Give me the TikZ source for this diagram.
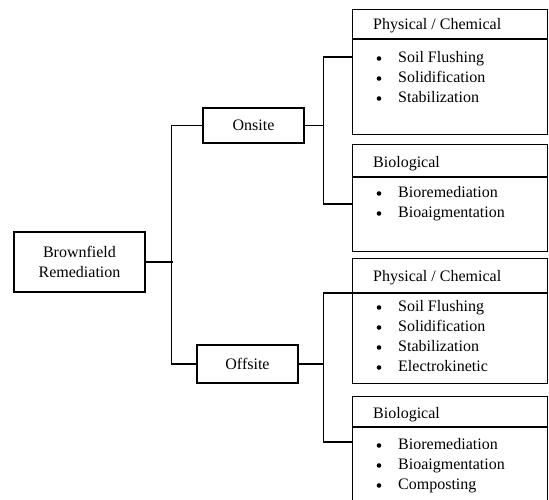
\documentclass[tikz,border=0pt]{standalone}
\usepackage{fontspec}
\setmainfont{Liberation Serif}
\usepackage{tikz}
\usetikzlibrary{positioning,calc}

\tikzset{
  box/.style={draw, line width=1.2pt, rectangle, align=center, inner sep=0pt,
    font=\fontsize{16}{20}\selectfont},
  panel/.style={draw, line width=1.2pt, rectangle, anchor=north west, inner sep=0pt,
    minimum width=195pt},
  head/.style={anchor=west, inner sep=0pt, text height=11pt, text depth=3.5pt,
    font=\fontsize{16}{20}\selectfont},
  item/.style={anchor=west, inner sep=0pt, text height=11pt, text depth=3.5pt,
    font=\fontsize{16}{20}\selectfont},
  conn/.style={line width=1.2pt},
}

\begin{document}
\begin{tikzpicture}[x=1pt,y=-1pt]
\useasboundingbox (0,0) rectangle (549,499);

% left part
\node[box, minimum width=131pt, minimum height=60pt] (brown) at (79.5,262) {Brownfield\\Remediation};
\node[box, minimum width=101pt, minimum height=35pt] (onsite) at (253.5,125.5) {Onsite};
\node[box, minimum width=101pt, minimum height=38pt] (offsite) at (247.5,364) {Offsite};

% right panels
\node[panel, minimum height=125pt] (onpc) at (352,9) {};
\node[panel, minimum height=107pt] (onbio) at (352,144) {};
\node[panel, minimum height=125pt] (offpc) at (352,258) {};
\node[panel, minimum height=130pt] (offbio) at (352,396) {};

\foreach \p/\s in {onpc/30,onbio/33,offpc/35,offbio/31}
    \draw[conn] ([yshift=-\s pt]\p.north west) -- ([yshift=-\s pt]\p.north east);

\node[head] (onpc-head) at ([xshift=21pt,yshift=-17pt]onpc.north west) {Physical / Chemical};
\node[head] (onbio-head) at ([xshift=21pt,yshift=-20pt]onbio.north west) {Biological};
\node[head] (offpc-head) at ([xshift=21pt,yshift=-20pt]offpc.north west) {Physical / Chemical};
\node[head] (offbio-head) at ([xshift=21pt,yshift=-19pt]offbio.north west) {Biological};

\foreach \p/\list in {onpc/{Soil Flushing,Solidification,Stabilization},
    onbio/{Bioremediation,Bioaigmentation},
    offpc/{Soil Flushing,Solidification,Stabilization,Electrokinetic},
    offbio/{Bioremediation,Bioaigmentation,Composting}}
  \foreach \t [count=\i] in \list {
    \fill ([xshift=27pt,yshift=-29.5pt-20pt*\i]\p.north west) circle (2.3pt);
    \node[item] at ([xshift=46pt,yshift=-29.5pt-20pt*\i]\p.north west) {\t};
  }

% connectors
\draw[conn] (brown.east) -- ++(27,0);
\draw[conn] (onsite.west) -- ++(-31,0) |- (offsite.west);
\draw[conn] (onsite.east) -- ++(19,0) coordinate (onfork);
\draw[conn] ([yshift=-48pt]onpc.north west) -| (onfork) |- ([yshift=-60pt]onbio.north west);
\draw[conn] (offsite.east) -- ++(25,0) coordinate (offfork);
\draw[conn] ([yshift=-35pt]offpc.north west) -| (offfork) |- ([yshift=-46pt]offbio.north west);
\end{tikzpicture}
\end{document}
